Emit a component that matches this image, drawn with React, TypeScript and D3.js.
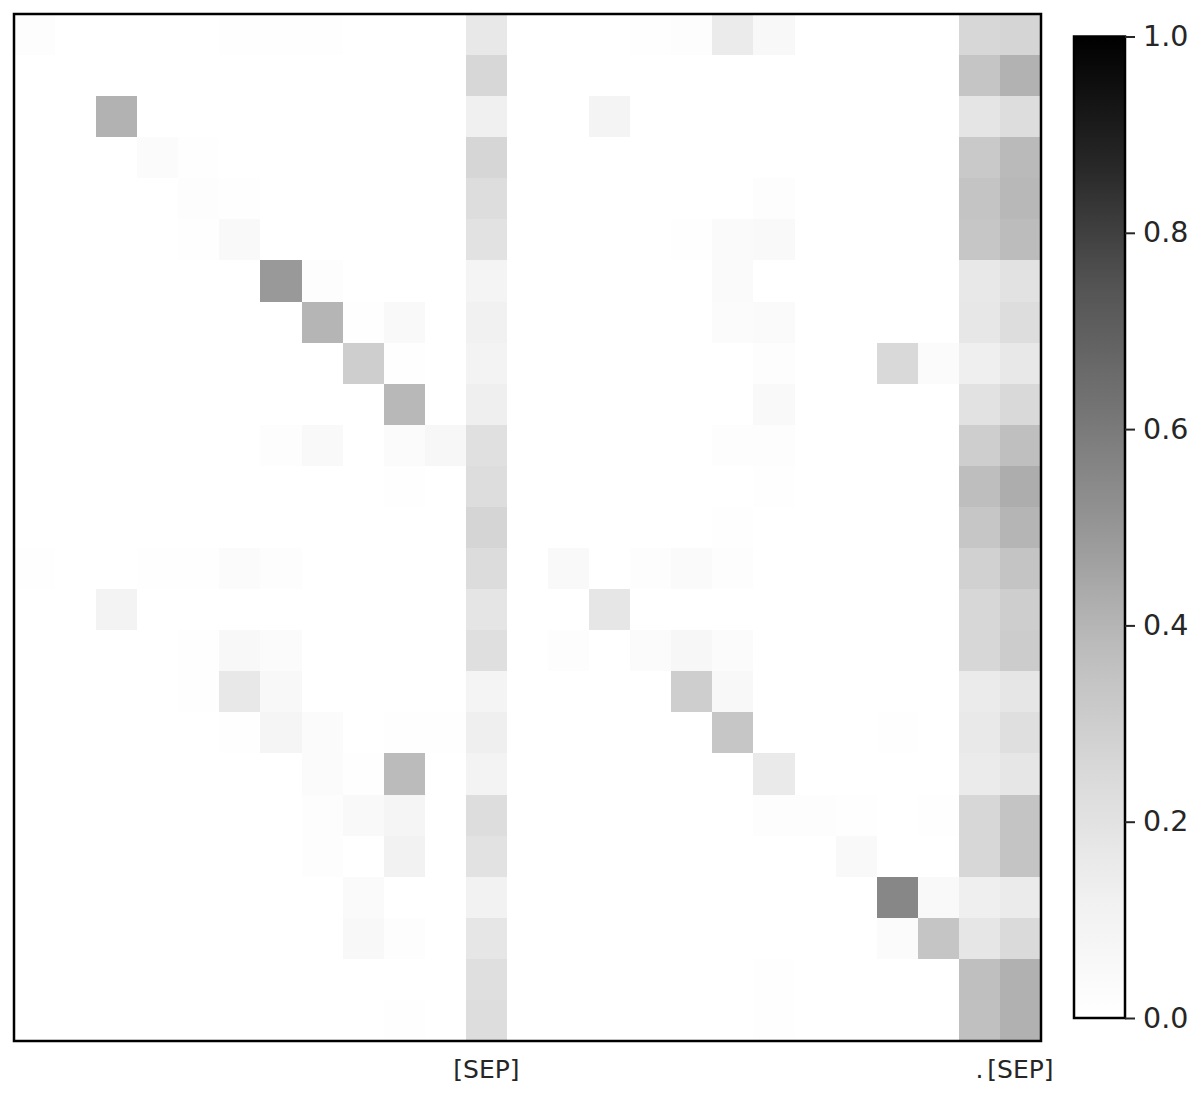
import { useEffect, useRef } from "react";
import * as d3 from "d3";

// x tick labels (only a few tokens are labelled in the source figure)
const tokens = [
  "", "", "", "", "", "", "", "", "", "", "", "[SEP]",
  "", "", "", "", "", "", "", "", "", "", "", ".", "[SEP]",
];

// attention weights, one row per query token
const weights = [
  [0.02, 0, 0, 0, 0, 0.01, 0.01, 0.01, 0, 0, 0, 0.17, 0, 0, 0, 0.01, 0.02, 0.15, 0.06, 0, 0, 0, 0, 0.26, 0.27],
  [0, 0, 0, 0, 0, 0, 0, 0, 0, 0, 0, 0.26, 0, 0, 0, 0, 0, 0, 0, 0, 0, 0, 0, 0.34, 0.41],
  [0, 0, 0.41, 0, 0, 0, 0, 0, 0, 0, 0, 0.125, 0, 0, 0.09, 0, 0, 0, 0, 0, 0, 0, 0, 0.185, 0.23],
  [0, 0, 0, 0.03, 0.01, 0, 0, 0, 0, 0, 0, 0.265, 0, 0, 0, 0, 0, 0, 0, 0, 0, 0, 0, 0.32, 0.385],
  [0, 0, 0, 0, 0.02, 0.01, 0, 0, 0, 0, 0, 0.23, 0, 0, 0, 0, 0, 0, 0.015, 0, 0, 0, 0, 0.345, 0.39],
  [0, 0, 0, 0, 0.01, 0.05, 0, 0, 0, 0, 0, 0.2, 0, 0, 0, 0, 0.01, 0.04, 0.05, 0, 0, 0, 0, 0.335, 0.378],
  [0, 0, 0, 0, 0, 0, 0.49, 0.02, 0, 0, 0, 0.09, 0, 0, 0, 0, 0, 0.04, 0, 0, 0, 0, 0, 0.17, 0.2],
  [0, 0, 0, 0, 0, 0, 0, 0.4, 0.01, 0.05, 0, 0.12, 0, 0, 0, 0, 0, 0.03, 0.04, 0, 0, 0, 0, 0.175, 0.23],
  [0, 0, 0, 0, 0, 0, 0, 0, 0.3, 0.01, 0, 0.1, 0, 0, 0, 0, 0, 0, 0.02, 0, 0, 0.25, 0.03, 0.13, 0.17],
  [0, 0, 0, 0, 0, 0, 0, 0, 0, 0.39, 0, 0.13, 0, 0, 0, 0, 0, 0, 0.05, 0, 0, 0, 0, 0.2, 0.25],
  [0, 0, 0, 0, 0, 0, 0.02, 0.05, 0, 0.03, 0.07, 0.21, 0, 0, 0, 0, 0, 0.02, 0.02, 0, 0, 0, 0, 0.3, 0.365],
  [0, 0, 0, 0, 0, 0, 0, 0, 0, 0.01, 0, 0.23, 0, 0, 0, 0, 0, 0, 0.01, 0, 0, 0, 0, 0.37, 0.425],
  [0, 0, 0, 0, 0, 0, 0, 0, 0, 0, 0, 0.27, 0, 0, 0, 0, 0, 0.01, 0, 0, 0, 0, 0, 0.335, 0.4],
  [0.01, 0, 0, 0.01, 0.01, 0.03, 0.02, 0, 0, 0, 0, 0.235, 0, 0.05, 0, 0.02, 0.04, 0.02, 0, 0, 0, 0, 0, 0.285, 0.345],
  [0, 0, 0.1, 0, 0, 0, 0, 0, 0, 0, 0, 0.185, 0, 0, 0.18, 0, 0, 0, 0, 0, 0, 0, 0, 0.26, 0.3],
  [0, 0, 0, 0, 0.01, 0.06, 0.03, 0, 0, 0, 0, 0.22, 0, 0.02, 0, 0.03, 0.07, 0.03, 0, 0, 0, 0, 0, 0.26, 0.31],
  [0, 0, 0, 0, 0.005, 0.17, 0.06, 0, 0, 0, 0, 0.09, 0, 0, 0, 0, 0.3, 0.06, 0, 0, 0, 0, 0, 0.15, 0.18],
  [0, 0, 0, 0, 0, 0.01, 0.08, 0.03, 0, 0.01, 0.01, 0.13, 0, 0, 0, 0, 0, 0.335, 0, 0, 0, 0.01, 0, 0.165, 0.22],
  [0, 0, 0, 0, 0, 0, 0, 0.03, 0.01, 0.38, 0, 0.1, 0, 0, 0, 0, 0, 0, 0.16, 0, 0, 0, 0, 0.15, 0.18],
  [0, 0, 0, 0, 0, 0, 0, 0.02, 0.05, 0.08, 0, 0.23, 0, 0, 0, 0, 0, 0, 0.02, 0.02, 0.01, 0, 0.005, 0.26, 0.345],
  [0, 0, 0, 0, 0, 0, 0, 0.02, 0, 0.11, 0, 0.2, 0, 0, 0, 0, 0, 0, 0, 0, 0.05, 0, 0, 0.26, 0.345],
  [0, 0, 0, 0, 0, 0, 0, 0, 0.04, 0, 0, 0.11, 0, 0, 0, 0, 0, 0, 0, 0, 0, 0.555, 0.05, 0.13, 0.15],
  [0, 0, 0, 0, 0, 0, 0, 0, 0.06, 0.02, 0, 0.18, 0, 0, 0, 0, 0, 0, 0, 0, 0, 0.03, 0.34, 0.18, 0.245],
  [0, 0, 0, 0, 0, 0, 0, 0, 0, 0, 0, 0.215, 0, 0, 0, 0, 0, 0, 0.005, 0, 0, 0, 0, 0.365, 0.415],
  [0, 0, 0, 0, 0, 0, 0, 0, 0, 0.005, 0, 0.23, 0, 0, 0, 0, 0, 0, 0.005, 0, 0, 0, 0, 0.36, 0.415],
];

const colorbarTicks = [0, 0.2, 0.4, 0.6, 0.8, 1.0];

// matplotlib "Greys" is piecewise linear between the 9 brewer colours
const greys = ["#ffffff", "#f0f0f0", "#d9d9d9", "#bdbdbd", "#969696", "#737373", "#525252", "#252525", "#000000"];

const FONT = "'DejaVu Sans', sans-serif";
const TEXT = "#262626";

export default function App() {
  const ref = useRef<SVGSVGElement | null>(null);

  useEffect(() => {
    if (!ref.current) return;
    const width = 1204;
    const height = 1100;
    const plot = { left: 14, top: 14, size: 1027 };
    const bar = { left: 1074, top: 36.5, width: 51, height: 981.5 };

    const svg = d3.select(ref.current).attr("width", width).attr("height", height);
    svg.selectAll("*").remove();

    const color = d3
      .scaleLinear<string>()
      .domain(d3.range(greys.length).map((i) => i / (greys.length - 1)))
      .range(greys)
      .clamp(true);

    const n = tokens.length;
    const x = d3.scaleBand<number>().domain(d3.range(n)).range([plot.left, plot.left + plot.size]);
    const y = d3.scaleBand<number>().domain(d3.range(weights.length)).range([plot.top, plot.top + plot.size]);

    const cells = weights.flatMap((row, r) => row.map((v, c) => ({ r, c, v })));

    svg
      .append("g")
      .attr("shape-rendering", "crispEdges")
      .selectAll("rect")
      .data(cells)
      .join("rect")
      .attr("x", (d) => x(d.c)!)
      .attr("y", (d) => y(d.r)!)
      .attr("width", x.bandwidth() + 0.5)
      .attr("height", y.bandwidth() + 0.5)
      .attr("fill", (d) => color(d.v));

    svg
      .append("rect")
      .attr("x", plot.left)
      .attr("y", plot.top)
      .attr("width", plot.size)
      .attr("height", plot.size)
      .attr("fill", "none")
      .attr("stroke", "#000")
      .attr("stroke-width", 2.5);

    // x tick labels
    svg
      .append("g")
      .selectAll("text")
      .data(tokens.map((t, i) => ({ t, i })).filter((d) => d.t !== ""))
      .join("text")
      .attr("x", (d) => x(d.i)! + x.bandwidth() / 2)
      .attr("y", 1078)
      .attr("text-anchor", "middle")
      .attr("font-family", FONT)
      .attr("font-size", 25)
      .attr("fill", TEXT)
      .text((d) => d.t);

    // colorbar
    const grad = svg
      .append("defs")
      .append("linearGradient")
      .attr("id", "greys-grad")
      .attr("x1", 0)
      .attr("x2", 0)
      .attr("y1", 1)
      .attr("y2", 0);
    grad
      .selectAll("stop")
      .data(d3.range(0, 1.0001, 0.02))
      .join("stop")
      .attr("offset", (d) => d)
      .attr("stop-color", (d) => color(d));

    svg
      .append("rect")
      .attr("x", bar.left)
      .attr("y", bar.top)
      .attr("width", bar.width)
      .attr("height", bar.height)
      .attr("fill", "url(#greys-grad)")
      .attr("stroke", "#000")
      .attr("stroke-width", 2.5);

    const cy = d3.scaleLinear().domain([0, 1]).range([bar.top + bar.height, bar.top]);
    const axis = svg
      .append("g")
      .attr("transform", `translate(${bar.left + bar.width},0)`)
      .call(d3.axisRight(cy).tickValues(colorbarTicks).tickSize(10).tickPadding(8).tickFormat(d3.format(".1f")));
    axis.select(".domain").remove();
    axis.selectAll("line").attr("stroke", TEXT).attr("stroke-width", 2);
    axis
      .selectAll("text")
      .attr("font-family", FONT)
      .attr("font-size", 28.5)
      .attr("fill", TEXT);
  }, []);

  return <svg ref={ref} style={{ position: "absolute", left: 0, top: 0, background: "#fff" }} />;
}
